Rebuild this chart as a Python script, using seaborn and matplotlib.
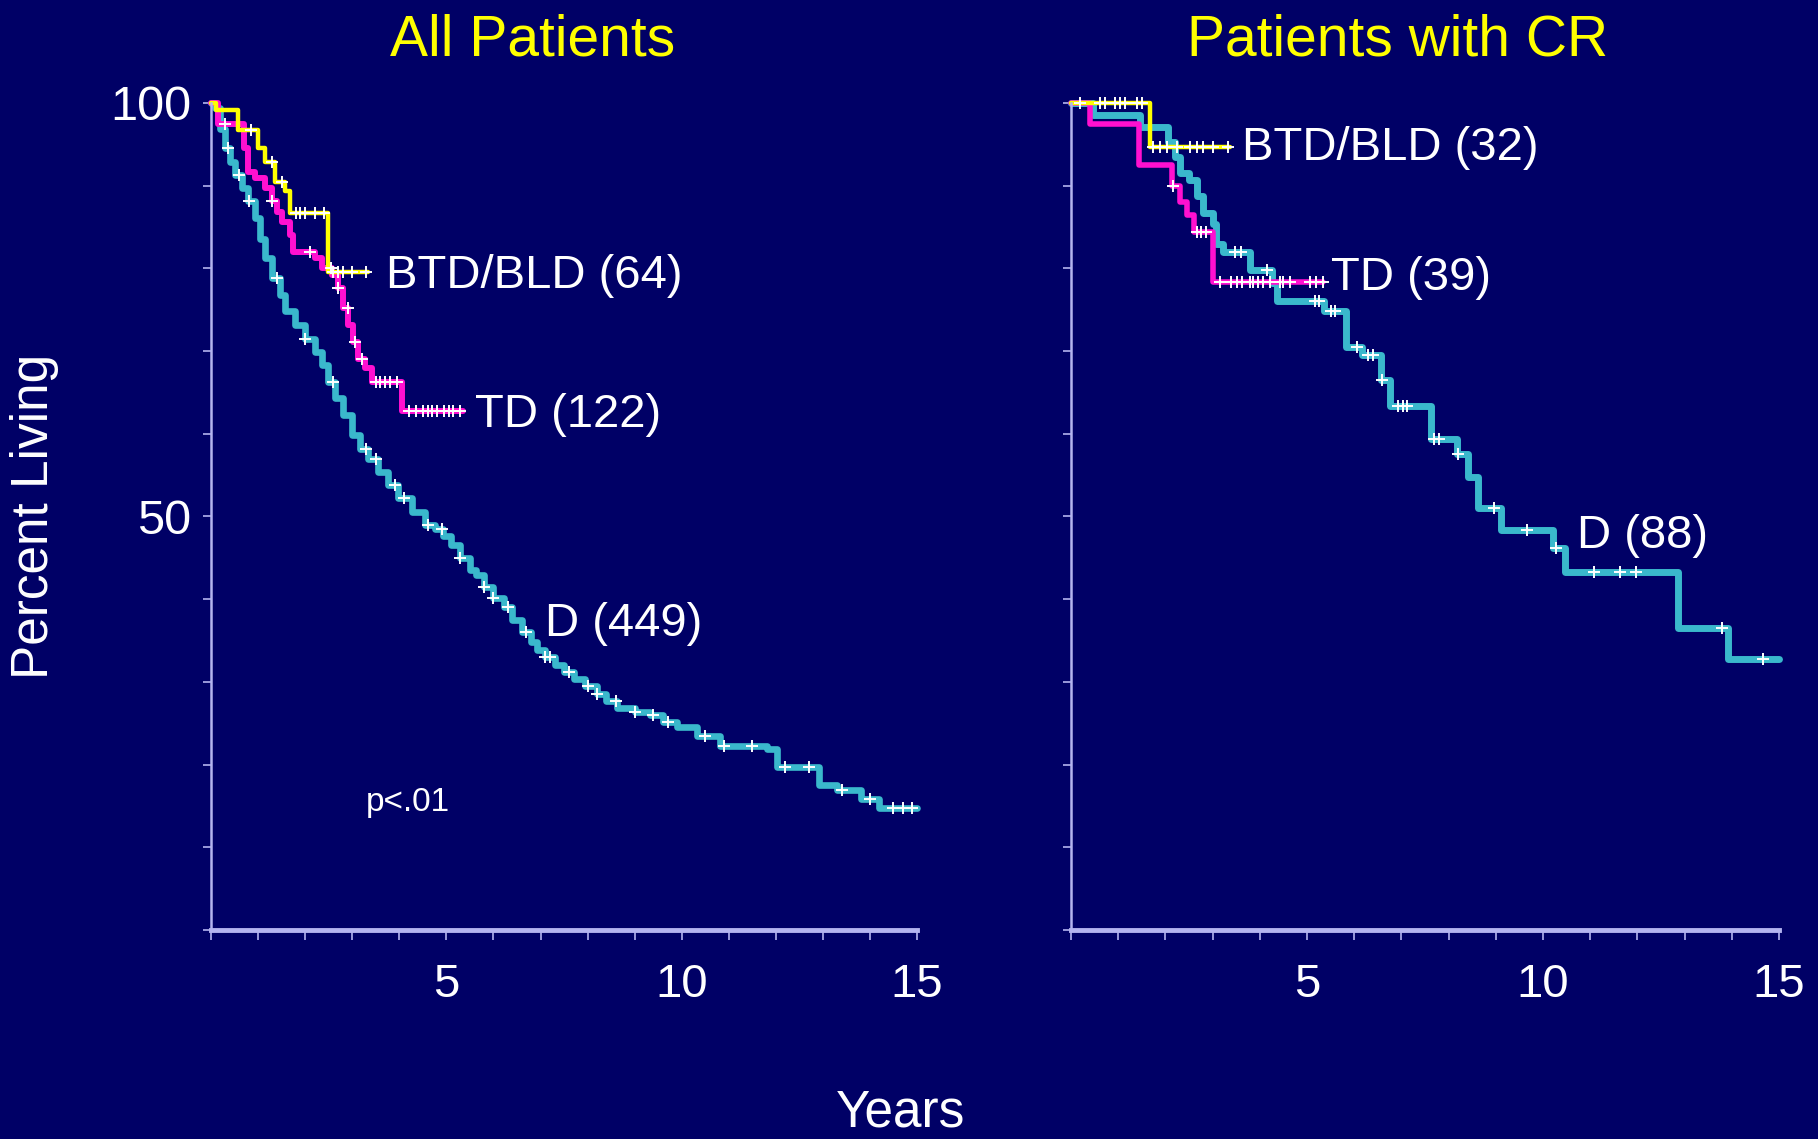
import numpy as np
import pandas as pd
import seaborn as sns
import matplotlib.pyplot as plt

# ---------- data (years, percent living) ----------
# All patients
all_d_t = [0, 0.08, 0.19, 0.3, 0.4, 0.51, 0.65, 0.79, 0.93, 1.04, 1.15, 1.29, 1.47, 1.57, 1.78,
           2.0, 2.21, 2.35, 2.49, 2.63, 2.81, 2.99, 3.17, 3.34, 3.55, 3.77, 3.98, 4.26, 4.55, 4.76,
           4.92, 5.1, 5.3, 5.5, 5.62, 5.8, 6.0, 6.22, 6.4, 6.6, 6.8, 6.92, 7.1, 7.3, 7.5, 7.72,
           7.95, 8.2, 8.4, 8.62, 9.0, 9.32, 9.6, 9.9, 10.32, 10.82, 11.82, 12.02, 12.92, 13.3,
           13.8, 14.2, 15.0]
all_d_s = [100, 99.4, 96.9, 94.5, 92.9, 91.3, 89.7, 88.1, 86.1, 83.6, 81.2, 78.8, 76.8, 74.8, 73.2,
           71.5, 69.9, 68.3, 66.3, 64.3, 62.3, 59.9, 58.2, 57.0, 55.4, 53.8, 52.2, 50.6, 49.0, 48.5,
           47.6, 46.5, 45.0, 43.5, 42.9, 41.5, 40.2, 39.0, 37.5, 36.0, 34.8, 33.8, 33.0, 32.0, 31.2, 30.3,
           29.5, 28.5, 27.7, 26.9, 26.4, 26.0, 25.2, 24.6, 23.4, 22.3, 21.9, 19.7, 17.5, 16.9,
           15.8, 14.8, 14.8]
all_d_cens = [0.35, 0.6, 0.8, 1.4, 2.0, 2.6, 3.3, 3.5, 3.9, 4.1, 4.6, 4.9, 5.3, 5.8, 6.0, 6.3, 6.7,
              7.1, 7.2, 7.6, 8.0, 8.2, 8.6, 9.0, 9.4, 9.7, 10.5, 10.9, 11.5, 12.2, 12.7, 13.4,
              14.0, 14.5, 14.7, 14.9]

all_td_t = [0, 0.15, 0.69, 0.78, 0.93, 1.15, 1.29, 1.4, 1.5, 1.68, 1.75, 2.21, 2.35, 2.56, 2.7,
            2.81, 2.92, 3.02, 3.13, 3.27, 3.41, 4.05, 5.35]
all_td_s = [100, 97.5, 94.5, 91.7, 90.9, 89.7, 88.1, 86.8, 85.6, 84.0, 82.0, 81.2, 80.0, 79.2, 77.6,
            75.2, 73.2, 71.1, 69.1, 67.9, 66.3, 62.7, 62.7]
all_td_cens = [0.3, 1.3, 2.1, 2.55, 2.7, 2.9, 3.05, 3.2, 3.5, 3.6, 3.7, 3.8, 3.95, 4.2, 4.35, 4.5,
               4.6, 4.7, 4.8, 4.95, 5.05, 5.15, 5.3]

all_btd_t = [0, 0.1, 0.58, 1.0, 1.15, 1.36, 1.57, 1.67, 2.49, 3.34]
all_btd_s = [100, 99.2, 96.7, 94.5, 92.9, 90.5, 89.3, 86.7, 79.6, 79.6]
all_btd_cens = [0.85, 1.3, 1.5, 1.8, 1.9, 2.0, 2.2, 2.4, 2.6, 2.7, 2.8, 3.0, 3.3]

# Patients with CR
cr_d_t = [0, 0.47, 1.46, 2.06, 2.2, 2.3, 2.5, 2.66, 2.8, 3.0, 3.08, 3.22, 3.79, 4.25, 4.36, 5.37,
          5.82, 6.16, 6.57, 6.76, 7.62, 8.17, 8.42, 8.62, 9.11, 10.21, 10.47, 12.86, 13.92, 15.0]
cr_d_s = [100, 98.5, 97.1, 95.3, 93.5, 91.5, 90.7, 88.7, 86.7, 85.4, 83.0, 82.0, 79.8, 78.2, 76.0,
          74.8, 70.5, 69.5, 66.5, 63.3, 59.4, 57.6, 54.8, 51.0, 48.4, 46.2, 43.3, 36.5, 32.8, 32.8]
cr_d_cens = [3.47, 3.6, 4.16, 5.16, 5.25, 5.5, 5.6, 6.05, 6.3, 6.4, 6.6, 6.93, 7.03, 7.12, 7.7,
             7.8, 8.19, 8.96, 9.67, 10.27, 11.08, 11.63, 11.98, 13.8, 14.67]

cr_td_t = [0, 0.4, 1.45, 2.15, 2.3, 2.45, 2.6, 3.0, 5.35]
cr_td_s = [100, 97.5, 92.5, 90, 88, 86.5, 84.4, 78.4, 78.4]
cr_td_cens = [2.17, 2.66, 2.76, 2.87, 3.16, 3.4, 3.51, 3.62, 3.79, 3.86, 3.97, 4.07, 4.22, 4.43,
              4.5, 4.64, 5.06, 5.2, 5.35]

cr_btd_t = [0, 1.67, 3.37]
cr_btd_s = [100, 94.7, 94.7]
cr_btd_cens = [0.19, 0.61, 0.72, 0.93, 1.04, 1.14, 1.39, 1.5, 1.74, 1.89, 2.03, 2.24, 2.52, 2.66,
               2.8, 3.01, 3.33]

BG = '#000066'
CYAN = '#3ab8cc'
MAGENTA = '#ff10d0'
YELLOW = '#ffff00'
AXC = '#b4b4f0'

sns.set_theme(style='white')
plt.rcParams['font.family'] = ['Liberation Sans', 'DejaVu Sans']


def km_plot(ax, t, s, cens, color, lw):
    df = pd.DataFrame({'t': t, 's': s})
    sns.lineplot(data=df, x='t', y='s', ax=ax, color=color, linewidth=lw,
                 drawstyle='steps-post', sort=False, clip_on=False, estimator=None)
    # censor marks sit on the step curve
    t_arr = np.array(t)
    s_arr = np.array(s)
    idx = np.searchsorted(t_arr, np.array(cens), side='right') - 1
    cdf = pd.DataFrame({'t': cens, 's': s_arr[idx]})
    sns.scatterplot(data=cdf, x='t', y='s', ax=ax, marker='+', color='white', s=70,
                    linewidth=1.4, clip_on=False, zorder=5)


fig = plt.figure(figsize=(18.18, 11.39), dpi=100, facecolor=BG)
ax1 = fig.add_axes([0.1161, 0.1835, 0.3883, 0.7261])
ax2 = fig.add_axes([0.5891, 0.1835, 0.3894, 0.7261])

km_plot(ax1, all_d_t, all_d_s, all_d_cens, CYAN, 4.8)
km_plot(ax1, all_td_t, all_td_s, all_td_cens, MAGENTA, 4.3)
km_plot(ax1, all_btd_t, all_btd_s, all_btd_cens, YELLOW, 3.2)

km_plot(ax2, cr_d_t, cr_d_s, cr_d_cens, CYAN, 5.0)
km_plot(ax2, cr_td_t, cr_td_s, cr_td_cens, MAGENTA, 4.0)
km_plot(ax2, cr_btd_t, cr_btd_s, cr_btd_cens, YELLOW, 3.2)

for ax in (ax1, ax2):
    ax.set_facecolor(BG)
    ax.set_xlim(0, 15)
    ax.set_ylim(0, 100)
    ax.set_xlabel('')
    ax.set_ylabel('')
    for side in ('top', 'right'):
        ax.spines[side].set_visible(False)
    ax.spines['left'].set_color(AXC)
    ax.spines['left'].set_linewidth(1.8)
    ax.spines['bottom'].set_color(AXC)
    ax.spines['bottom'].set_linewidth(3.5)
    ax.set_xticks(range(0, 16))
    ax.set_xticklabels(['5' if v == 5 else '10' if v == 10 else '15' if v == 15 else '' for v in range(16)])
    ax.set_yticks(range(0, 101, 10))
    ax.tick_params(axis='x', bottom=True, direction='out', length=7, width=1.2, color=AXC,
                   labelsize=34, labelcolor='white', pad=17)
    ax.tick_params(axis='y', left=True, direction='out', length=6, width=1.2, color=AXC,
                   labelsize=35, labelcolor='white', pad=8)

ax1.set_yticklabels(['100' if v == 100 else '50' if v == 50 else '' for v in range(0, 101, 10)])
ax2.set_yticklabels([''] * 11)

ax1.set_title('All Patients', color=YELLOW, fontsize=41, pad=34, x=0.456)
ax2.set_title('Patients with CR', color=YELLOW, fontsize=41, pad=34, x=0.462)

lab = dict(color='white', fontsize=34, va='center', ha='left')
ax1.text(3.72, 79.1, 'BTD/BLD (64)', **lab)
ax1.text(5.61, 62.3, 'TD (122)', **lab)
ax1.text(7.1, 37.0, 'D (449)', **lab)
ax1.text(3.29, 15.4, 'p<.01', color='white', fontsize=24, va='center', ha='left')
ax2.text(3.62, 94.6, 'BTD/BLD (32)', **lab)
ax2.text(5.51, 78.8, 'TD (39)', **lab)
ax2.text(10.72, 47.6, 'D (88)', **lab)

fig.text(0.019, 0.547, 'Percent Living', rotation=90, color='white', fontsize=37,
         ha='center', va='center')
fig.text(0.4956, 0.001, 'Years', color='white', fontsize=37, ha='center', va='bottom')

fig.savefig('out.png', dpi=100, facecolor=BG)
